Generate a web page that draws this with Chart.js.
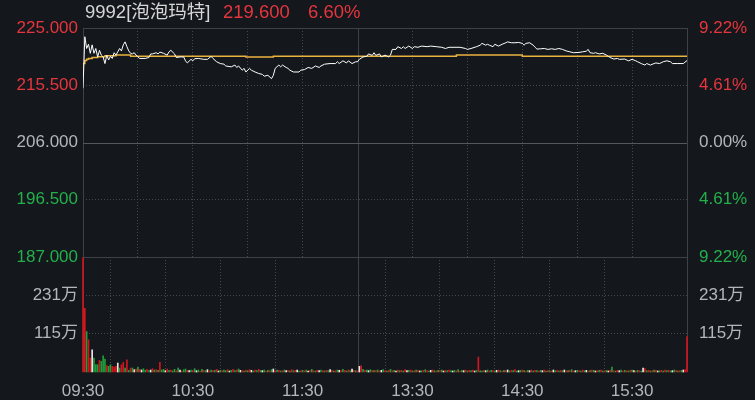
<!DOCTYPE html>
<html><head><meta charset="utf-8">
<script src="https://cdn.jsdelivr.net/npm/chart.js@4.4.1/dist/chart.umd.min.js"></script>
<style>
html,body{margin:0;padding:0;background:#14171c;width:755px;height:400px;overflow:hidden}
#wrap{position:relative;width:755px;height:400px;background:#14171c}
canvas{position:absolute;left:0}
.t{position:absolute;top:2px;font:18.5px "Liberation Sans","Noto Sans CJK SC",sans-serif;white-space:pre;line-height:20px}
</style></head>
<body><div id="wrap">
<canvas id="cp" width="755" height="280" style="top:0;width:755px;height:280px"></canvas>
<canvas id="cv" width="755" height="143" style="top:257px;width:755px;height:143px"></canvas>
<div class="t" style="left:85px;color:#d6d6d6">9992[泡泡玛特]</div>
<div class="t" style="left:223px;color:#e5363d">219.600</div>
<div class="t" style="left:308px;color:#e5363d">6.60%</div>
</div>
<script>
const PREV_CLOSE = 206.0;
// minute index from 09:30 (0..150 morning, 150..330 afternoon from 13:00)
const minutes = [0,1,2,3,4,5,6,7,8,9,10,11,12,13,14,15,16,17,18,19,20,21,22,23,24,25,26,27,28,29,30,31,34,36,37,38,40,41,42,44,46,47,48,50,51,53,55,56,57,59,60,61,63,64,66,68,70,71,73,75,77,78,81,83,84,85,87,88,89,91,92,94,96,98,99,101,103,104,105,107,108,109,111,112,113,115,118,119,121,123,125,127,129,130,132,135,138,139,140,142,144,145,147,149,150,151,153,155,156,158,159,160,162,163,165,167,168,169,171,172,174,175,176,178,180,181,183,185,188,190,193,196,198,200,206,209,210,212,215,217,218,220,221,222,224,225,227,229,231,232,234,236,238,240,241,242,244,246,247,248,250,252,254,256,258,260,262,264,266,268,271,273,275,276,277,279,280,282,284,286,288,290,292,293,296,298,300,302,303,305,307,308,310,312,313,315,317,319,321,322,325,328,330];
const prices = [215.0,223.55,221.6,222.3,220.8,222.2,220.8,221.6,220.2,221.3,220.5,220.2,219.1,220.5,219.7,220.3,219.95,220.9,220.5,221.05,221.6,221.2,222.2,222.7,221.9,221.2,220.8,220.7,220.9,220.5,220.2,219.95,219.95,220.1,220.7,220.7,220.9,220.7,221.0,220.8,220.5,221.05,221.3,220.7,220.1,220.2,220.2,219.55,219.2,219.8,219.55,219.9,219.95,219.9,219.8,219.8,220.3,219.95,219.4,219.1,219.0,218.7,218.55,218.85,218.45,218.7,218.0,218.3,217.7,218.3,218.0,217.7,217.45,217.3,217.0,217.15,216.6,217.15,218.3,218.85,218.55,218.85,218.45,218.3,218.0,217.7,217.7,218.0,218.1,218.45,218.3,218.7,218.45,218.7,219.0,219.1,219.1,219.4,219.1,219.55,219.2,219.55,219.1,219.4,219.4,219.8,220.2,220.3,220.7,220.45,220.9,220.45,220.7,220.2,220.5,220.2,220.5,221.45,221.45,221.9,221.6,221.9,221.6,222.0,221.6,221.9,221.8,222.0,221.9,222.0,221.9,221.8,221.6,221.8,221.8,221.6,221.45,221.6,221.9,222.15,222.45,222.15,222.3,222.15,221.9,222.3,222.0,222.3,222.55,222.7,222.55,222.55,222.6,222.45,222.15,222.45,222.55,222.15,221.8,221.5,221.55,221.6,221.45,221.55,221.45,221.6,221.45,221.2,221.05,220.9,220.95,221.05,221.15,221.45,220.9,220.8,220.9,220.7,220.8,220.5,220.1,219.85,219.95,219.8,219.85,219.55,219.8,219.55,219.4,219.1,218.85,219.1,218.85,219.1,219.2,219.1,219.4,219.55,219.4,219.1,219.1,219.1,219.6];
const avgMinutes = [0,1,2,3,5,8,12,18,26,89,104,204,240,324,330];
const avgPrices  = [217.45,219.1,219.6,219.8,219.95,220.1,220.25,220.4,220.5,220.33,220.17,220.33,220.5,220.33,220.33];
// volume per minute, in 万 shares, minutes 0..330
const volumes = [
345,192,122,97,42,67,42,22,22,35,
32,49,39,19,17,22,17,15,17,27,
12,22,29,12,37,5,12,12,7,9,
15,8,6,10,5,8,4,6,10,6,
7,5,29,6,8,4,9,5,6,3,
8,4,12,6,3,7,9,5,4,6,
5,10,4,6,3,8,5,4,7,3,
6,4,5,8,3,5,4,6,4,7,
3,5,8,4,6,9,5,4,3,6,
4,7,5,3,6,4,8,5,4,6,
3,5,4,7,9,4,6,5,3,4,
6,4,5,3,7,4,5,6,3,4,
5,4,6,3,5,8,4,3,5,4,
6,4,3,5,4,7,5,3,4,6,
5,4,8,5,3,6,4,9,5,4,
3,17,19,8,5,6,4,7,5,4,
4,6,3,5,7,4,3,5,8,4,
5,3,6,4,5,3,7,4,5,6,
3,4,6,5,3,4,5,7,4,3,
5,6,4,3,5,4,6,3,5,4,
6,4,3,5,4,7,3,5,4,6,
3,5,4,6,3,5,45,4,3,5,
4,6,3,5,4,3,5,6,4,3,
5,4,6,3,5,4,7,3,4,5,
6,4,3,5,4,6,3,5,4,3,
5,4,6,3,5,4,3,6,4,5,
3,5,4,6,3,4,5,7,3,4,
5,4,3,6,4,5,3,4,6,5,
3,4,5,6,3,4,5,3,6,15,
4,3,5,4,6,3,5,4,3,5,
6,4,3,5,4,3,12,10,4,5,
3,4,6,5,3,4,5,3,6,4,
5,3,4,6,5,3,4,5,6,7,
107];
// r = up tick, g = down tick, w = unchanged
const tickDir =
"rrgrrwgggr"+"gggrggrrrw"+"grrgrgrgwr"+"grwggrgwrg"+"rgrggwrgrg"+"grgwrggrwg"+"rgwgrgrgwr"+"grgrwgrggr"+
"wgrgrgwrgr"+"grwgrgrgwg"+"rgrgwrgrgr"+"gwrgrgrwgr"+"grgwrgrgrw"+"grgrgwrgrg"+"wrgrgrgwrg"+"rwrgrgwgrg"+
"rgrwgrgrgr"+"gwrgrgrwgr"+"grgrwgrgrg"+"wrgrgrgwrg"+"rgwgrgrgwr"+"grgrwgrggr"+"wgrgrgwrgr"+"grwgrgrgwg"+
"rgrgwrgrgr"+"gwrgrgrwgr"+"grgwrgrgrw"+"grgrgwrgrg"+"wrgrgrgwrg"+"rgrwgrgrgr"+"gwrgrgwrgr"+"grgrwgrgrg"+
"rgwgrgrgwr"+"r";
const priceTicks = [187, 196.5, 206, 215.5, 225];
const volTicks = [115.5, 231];
const timeLabels = {0:'09:30',60:'10:30',120:'11:30',180:'13:30',240:'14:30',300:'15:30'};

const FONT = '"Liberation Sans","Noto Sans CJK SC",sans-serif';
const RED = '#e5363d', GREEN = '#23b04b', GRAY = '#b4b6ba';
const GRID = '#454850', SOLID = '#3e4148', ZERO = '#54575e';
const BAR = {r:'#d4161d', g:'#1f9e3c', w:'#e8e8e8'};
const SOLID_X = [0, 150, 330], SOLID_Y = [187, 206, 225];

const priceColor = v => v > PREV_CLOSE + 1e-9 ? RED : (v < PREV_CLOSE - 1e-9 ? GREEN : GRAY);

function solidLinesPlugin(hLines) {
  return {
    id: 'solidLines',
    beforeDatasetsDraw(chart) {
      const ctx = chart.ctx, x = chart.scales.x, a = chart.chartArea;
      ctx.save();
      ctx.lineWidth = 1;
      for (const m of SOLID_X) {
        const px = Math.round(x.getPixelForValue(m)) + 0.5;
        ctx.strokeStyle = SOLID;
        ctx.beginPath(); ctx.moveTo(px, a.top); ctx.lineTo(px, a.bottom); ctx.stroke();
      }
      for (const [v, col] of hLines) {
        const py = Math.round(chart.scales.y.getPixelForValue(v)) + 0.5;
        ctx.strokeStyle = col;
        ctx.beginPath(); ctx.moveTo(a.left, py); ctx.lineTo(a.right, py); ctx.stroke();
      }
      ctx.restore();
    }
  };
}
const noPad = s => { s.paddingTop = 0; s.paddingBottom = 0; };

const xGrid = {
  type: 'linear', min: 0, max: 330,
  ticks: {display: false, stepSize: 30},
  grid: {color: c => SOLID_X.includes(c.tick && c.tick.value) ? 'rgba(0,0,0,0)' : GRID, drawTicks: false, lineWidth: 1},
  border: {display: false, dash: [1, 2]}
};

new Chart(document.getElementById('cp'), {
  type: 'line',
  data: {
    datasets: [
      {data: minutes.map((m, i) => ({x: m, y: prices[i]})), borderColor: '#ffffff', borderWidth: 1, pointRadius: 0, tension: 0, yAxisID: 'y'},
      {data: avgMinutes.map((m, i) => ({x: m, y: avgPrices[i]})), borderColor: '#eab33e', borderWidth: 1.5, pointRadius: 0, stepped: 'after', yAxisID: 'y'}
    ]
  },
  options: {
    responsive: false, animation: false, events: [],
    layout: {padding: {top: 28, bottom: 23, left: 0, right: 0}},
    plugins: {legend: {display: false}, tooltip: {enabled: false}},
    scales: {
      x: Object.assign({}, xGrid, {afterFit: s => { s.height = 0; }}),
      y: {
        position: 'left', min: 187, max: 225,
        afterBuildTicks: s => { s.ticks = priceTicks.map(v => ({value: v})); },
        afterFit: s => { s.width = 83; },
        ticks: {padding: 5, color: c => priceColor(c.tick.value), font: {size: 17, family: FONT}, callback: v => v.toFixed(3)},
        grid: {color: c => SOLID_Y.includes(c.tick && c.tick.value) ? 'rgba(0,0,0,0)' : GRID, drawTicks: false},
        border: {display: false, dash: [1, 2]}
      },
      y2: {
        position: 'right', min: 187, max: 225,
        afterBuildTicks: s => { s.ticks = priceTicks.map(v => ({value: v})); },
        afterFit: s => { s.width = 68; },
        ticks: {padding: 4, color: c => priceColor(c.tick.value), font: {size: 17, family: FONT},
          callback: v => (Math.abs(v - PREV_CLOSE) / PREV_CLOSE * 100).toFixed(2) + '%'},
        grid: {display: false},
        border: {display: false}
      }
    }
  },
  plugins: [solidLinesPlugin([[225, SOLID], [206, ZERO], [187, SOLID]])]
});

new Chart(document.getElementById('cv'), {
  type: 'bar',
  data: {
    datasets: [{
      data: volumes.map((v, i) => ({x: i, y: v})),
      backgroundColor: volumes.map((v, i) => BAR[tickDir[i] || 'w']),
      barThickness: 1, borderWidth: 0, yAxisID: 'y', clip: false
    }]
  },
  options: {
    responsive: false, animation: false, events: [],
    layout: {padding: {top: 0, bottom: 0, left: 0, right: 0}},
    plugins: {legend: {display: false}, tooltip: {enabled: false}},
    scales: {
      x: Object.assign({}, xGrid, {
        offset: false,
        afterFit: s => { s.height = 28; },
        ticks: {display: true, stepSize: 30, autoSkip: false, maxRotation: 0, padding: 9,
          color: GRAY, font: {size: 17, family: FONT}, callback: v => timeLabels[v] || ''}
      }),
      y: {
        position: 'left', min: 0, max: 346.5,
        afterBuildTicks: s => { s.ticks = volTicks.map(v => ({value: v})); },
        afterFit: s => { s.width = 83; noPad(s); },
        ticks: {padding: 5, color: GRAY, font: {size: 17, family: FONT}, callback: v => Math.floor(v) + '万'},
        grid: {color: GRID, drawTicks: false},
        border: {display: false, dash: [1, 2]}
      },
      y2: {
        position: 'right', min: 0, max: 346.5,
        afterBuildTicks: s => { s.ticks = volTicks.map(v => ({value: v})); },
        afterFit: s => { s.width = 68; noPad(s); },
        ticks: {padding: 4, color: GRAY, font: {size: 17, family: FONT}, callback: v => Math.floor(v) + '万'},
        grid: {display: false},
        border: {display: false}
      }
    }
  },
  plugins: [solidLinesPlugin([])]
});
</script>
</body></html>
